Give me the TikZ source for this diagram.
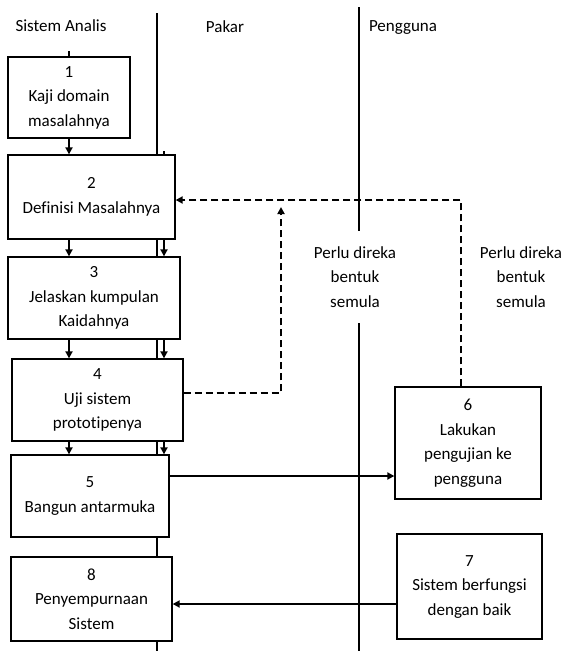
\documentclass[tikz,border=0pt]{standalone}
\usepackage{fontspec}
\setmainfont{Carlito}[Ligatures=NoCommon]
\usetikzlibrary{arrows.meta}

\begin{document}
\begin{tikzpicture}[x=1pt,y=-1pt,
	font=\fontsize{17}{24.5}\selectfont,
	kotak/.style={draw,line width=1.3pt,fill=white,align=center,inner sep=2pt},
	lorong/.style={line width=2pt},
	panah/.style={line width=2pt,-{Triangle[length=7pt,width=7pt]}},
	putus/.style={panah,dash pattern=on 7pt off 4pt},
	label/.style={align=center}]
	\useasboundingbox (0,0) rectangle (564,651);
	\coordinate (pakar atas) at (157,13);
	\coordinate (pakar bawah) at (157,651);
	\coordinate (pengguna atas) at (359,7);
	\coordinate (pengguna tengah1) at (359,231);
	\coordinate (pengguna tengah2) at (359,323);
	\coordinate (pengguna bawah) at (359,651);
	\coordinate (sisi) at (164,0);
	\coordinate (balik) at (461,200);
	\coordinate (naik) at (281,207);
	\draw[lorong] (pakar atas) -- (pakar bawah);
	\draw[lorong] (pengguna atas) -- (pengguna tengah1);
	\draw[lorong] (pengguna tengah2) -- (pengguna bawah);

	\node (analis) at (61,26) {Sistem Analis};
	\node (pakar) at (225,27) {Pakar};
	\node (pengguna) at (403,28) {Pengguna};

	\node[kotak,minimum width=122pt,minimum height=81pt] (kaji) at (69,97.5) {1\\Kaji domain\\masalahnya};
	\node[kotak,minimum width=167pt,minimum height=84pt] (definisi) at (91.5,197) {2\\Definisi Masalahnya};
	\node[kotak,minimum width=172pt,minimum height=82pt] (jelaskan) at (94,298) {3\\Jelaskan kumpulan\\Kaidahnya};
	\node[kotak,minimum width=171pt,minimum height=82pt] (uji) at (97.5,400) {4\\Uji sistem\\prototipenya};
	\node[kotak,minimum width=158pt,minimum height=82pt] (bangun) at (90,496) {5\\Bangun antarmuka};
	\node[kotak,minimum width=161pt,minimum height=84pt] (penyempurnaan) at (91.5,599) {8\\Penyempurnaan\\Sistem};
	\node[kotak,minimum width=146pt,minimum height=112pt] (lakukan) at (468,443) {6\\Lakukan\\pengujian ke\\pengguna};
	\node[kotak,minimum width=145pt,minimum height=105pt] (berfungsi) at (469.5,586.5) {7\\Sistem berfungsi\\dengan baik};

	\node[label] (perlu1) at (355,277) {Perlu direka\\bentuk\\semula};
	\node[label] (perlu2) at (521,277) {Perlu direka\\bentuk\\semula};

	\draw[line width=1.3pt] (kaji.north) -- ++(0,-5);
	\draw[line width=1.3pt] (sisi |- definisi.north) -- ++(0,-3);
	\draw[panah] (kaji.south) -- (kaji.south |- definisi.north);
	\draw[panah] (kaji.south |- definisi.south) -- (kaji.south |- jelaskan.north);
	\draw[panah] (kaji.south |- jelaskan.south) -- (kaji.south |- uji.north);
	\draw[panah] (kaji.south |- uji.south) -- (kaji.south |- bangun.north);
	\draw[panah] (sisi |- definisi.south) -- (sisi |- jelaskan.north);
	\draw[panah] (sisi |- jelaskan.south) -- (sisi |- uji.north);
	\draw[panah] (sisi |- uji.south) -- (sisi |- bangun.north);

	\draw[putus] (lakukan.north -| balik) -- (balik) -- (balik -| definisi.east);
	\draw[putus] ([yshift=7pt]uji.east) -- ([yshift=7pt]uji.east -| naik) -- (naik);
	\draw[panah] ([yshift=20pt]bangun.east) -- ([yshift=20pt]bangun.east -| lakukan.west);
	\draw[panah] ([yshift=-5pt]penyempurnaan.east -| berfungsi.west) -- ([yshift=-5pt]penyempurnaan.east);
\end{tikzpicture}
\end{document}
